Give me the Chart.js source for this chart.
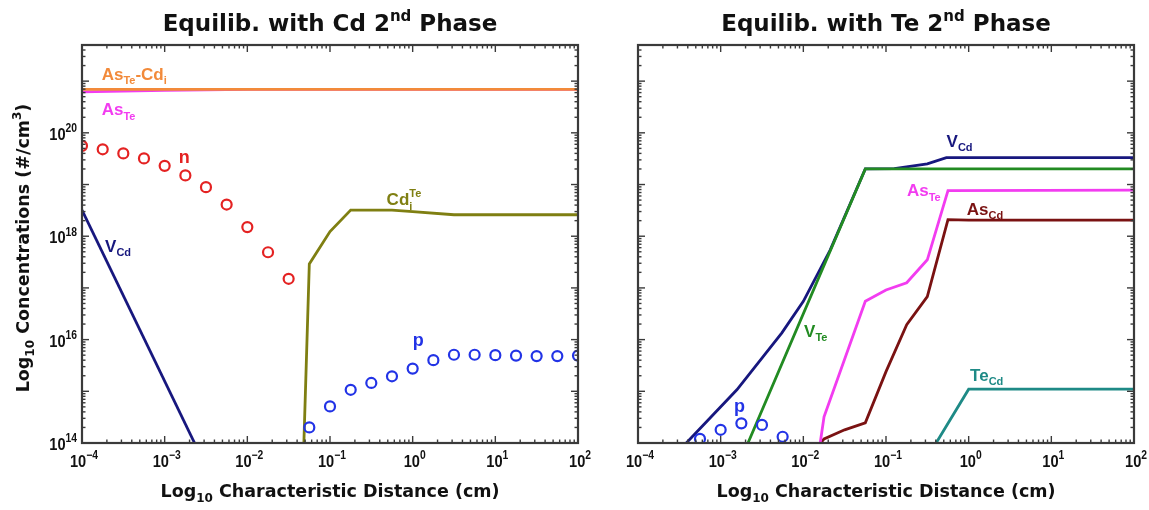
<!DOCTYPE html>
<html>
<head>
<meta charset="utf-8">
<script src="https://cdn.jsdelivr.net/npm/chart.js@4.4.1/dist/chart.umd.min.js"></script>
<style>
  html, body { margin: 0; padding: 0; background: #fff; }
  #wrap { position: relative; width: 1149px; height: 510px; overflow: hidden; background: #fff; }
  canvas { position: absolute; top: 0; }
</style>
</head>
<body>
<div id="wrap">
  <canvas id="cdPanel" width="600" height="510" style="left:0px"></canvas>
  <canvas id="tePanel" width="549" height="510" style="left:600px"></canvas>
</div>
<script>
// ---------- Equilib. with Cd 2nd phase ----------
const cdAsTeCdiX = [1e-4, 100];
const cdAsTeCdiY = [6.9e20, 6.9e20];

const cdAsTeX = [1e-4, 1e-3, 1e-2, 100];
const cdAsTeY = [6.2e20, 6.6e20, 6.9e20, 6.9e20];

const cdVCdX = [1e-4, 2.3e-3];
const cdVCdY = [3.2e18, 1e14];

const cdCdiX = [0.0483, 0.0562, 0.1, 0.178, 0.562, 1, 3.16, 100];
const cdCdiY = [1e14, 2.9e17, 1.23e18, 3.2e18, 3.2e18, 3.0e18, 2.6e18, 2.6e18];

const cdNX = [1e-4, 1.78e-4, 3.16e-4, 5.62e-4, 1e-3, 1.78e-3, 3.16e-3, 5.62e-3, 1e-2, 1.78e-2, 3.16e-2];
const cdNY = [5.6e19, 4.8e19, 4.0e19, 3.2e19, 2.3e19, 1.5e19, 8.9e18, 4.1e18, 1.5e18, 4.9e17, 1.5e17];

const cdPX = [5.62e-2, 0.1, 0.178, 0.316, 0.562, 1, 1.78, 3.16, 5.62, 10, 17.8, 31.6, 56.2, 100];
const cdPY = [2.0e14, 5.1e14, 1.07e15, 1.45e15, 1.95e15, 2.75e15, 4.0e15, 5.1e15, 5.1e15, 5.0e15, 4.9e15, 4.8e15, 4.8e15, 4.9e15];

// ---------- Equilib. with Te 2nd phase ----------
const teVCdX = [3.84e-4, 1.57e-3, 5.5e-3, 1e-2, 2.11e-2, 0.0562, 0.126, 0.316, 0.537, 100];
const teVCdY = [1e14, 1.07e15, 1.35e16, 5.5e16, 5.4e17, 2.0e19, 2.03e19, 2.5e19, 3.3e19, 3.3e19];

const teVTeX = [2.14e-3, 0.0562, 100];
const teVTeY = [1e14, 2.0e19, 2.0e19];

const teAsTeX = [0.016, 0.0178, 0.0562, 0.1, 0.178, 0.316, 0.562, 100];
const teAsTeY = [1e14, 3.2e14, 5.5e16, 9.1e16, 1.26e17, 3.5e17, 7.6e18, 7.8e18];

const teAsCdX = [0.0162, 0.0178, 0.0316, 0.0562, 0.1, 0.178, 0.316, 0.562, 1, 100];
const teAsCdY = [1e14, 1.2e14, 1.8e14, 2.45e14, 2.4e15, 1.95e16, 6.8e16, 2.1e18, 2.05e18, 2.05e18];

const teTeCdX = [0.404, 1, 100];
const teTeCdY = [1e14, 1.1e15, 1.1e15];

const tePX = [5.62e-4, 1e-3, 1.78e-3, 3.16e-3, 5.62e-3];
const tePY = [1.2e14, 1.8e14, 2.4e14, 2.24e14, 1.32e14];

// axis ticks (powers of ten)
const xTickPowers = [-4, -3, -2, -1, 0, 1, 2];
const yTickPowers = [14, 15, 16, 17, 18, 19, 20, 21];
const yLabelPowers = [14, 16, 18, 20];

const C = {
  orange: '#F28A3A', magenta: '#F23CF0', red: '#E42222', navy: '#17177E',
  olive: '#7F7F12', blue: '#2233E6', green: '#228B22', maroon: '#7A1212', teal: '#1E8A86',
  axis: '#3a3a3a', text: '#111111'
};

const SANS = '"Liberation Sans", Arial, sans-serif';
const WIDE = '"DejaVu Sans", sans-serif';

function pts(xs, ys) {
  return xs.map((x, i) => ({ x: x, y: ys[i] }));
}

function lineSet(label, xs, ys, color, order) {
  return { label: label, data: pts(xs, ys), showLine: true, borderColor: color,
    borderWidth: 2.8, pointRadius: 0, fill: false, tension: 0, order: order };
}

function dotSet(label, xs, ys, color, order) {
  return { label: label, data: pts(xs, ys), showLine: false, borderColor: color,
    backgroundColor: 'rgba(0,0,0,0)', pointStyle: 'circle', pointRadius: 5,
    pointBorderWidth: 2.2, order: order, clip: 0 };
}

// "As_{Te}^{x}" -> parts
function parse(str) {
  const parts = [];
  const re = /([_^])\{([^}]*)\}/g;
  let last = 0, m;
  while ((m = re.exec(str)) !== null) {
    if (m.index > last) parts.push({ t: str.slice(last, m.index) });
    parts.push({ t: m[2], s: m[1] === '_' ? 'sub' : 'sup' });
    last = re.lastIndex;
  }
  if (last < str.length) parts.push({ t: str.slice(last) });
  return parts;
}

function drawRich(ctx, str, x, y, o) {
  const parts = parse(str);
  const size = o.size, small = Math.round(size * (o.smallRatio || 0.66));
  const fam = o.family || SANS;
  const fontOf = p => 'bold ' + (p.s ? small : size) + 'px ' + fam;
  // widths, with a sup stacked above a preceding sub
  let w = 0, prevStart = 0, prev = null;
  const pos = [];
  parts.forEach(p => {
    ctx.font = fontOf(p);
    const pw = ctx.measureText(p.t).width;
    let start = w;
    if (p.s === 'sup' && prev && prev.s === 'sub') start = prevStart;
    pos.push(start);
    w = Math.max(w, start + pw);
    prevStart = start; prev = p;
  });
  ctx.save();
  ctx.translate(x, y);
  if (o.rotate) ctx.rotate(o.rotate);
  ctx.scale(o.sx || 1, 1);
  const off = o.align === 'center' ? -w / 2 : o.align === 'right' ? -w : 0;
  ctx.fillStyle = o.color || C.text;
  ctx.textAlign = 'left';
  ctx.textBaseline = 'alphabetic';
  parts.forEach((p, i) => {
    ctx.font = fontOf(p);
    const dy = p.s === 'sup' ? -size * 0.45 : p.s === 'sub' ? size * 0.26 : 0;
    ctx.fillText(p.t, off + pos[i], dy);
  });
  ctx.restore();
}

const decor = {
  id: 'decor',
  afterDraw(chart, args, o) {
    const ctx = chart.ctx, a = chart.chartArea;
    const xs = chart.scales.x, ys = chart.scales.y;
    ctx.save();
    ctx.strokeStyle = C.axis;
    ctx.lineWidth = 1.4;
    const seg = (x1, y1, x2, y2) => { ctx.beginPath(); ctx.moveTo(x1, y1); ctx.lineTo(x2, y2); ctx.stroke(); };

    // x ticks top and bottom, inward
    xTickPowers.forEach(d => {
      for (let m = 1; m <= 9; m++) {
        const v = m * Math.pow(10, d);
        if (v > xs.max * 1.0001) break;
        const px = xs.getPixelForValue(v);
        const len = m === 1 ? 7 : 3.5;
        seg(px, a.bottom, px, a.bottom - len);
        seg(px, a.top, px, a.top + len);
      }
    });
    // y ticks left and right, inward
    yTickPowers.forEach(d => {
      for (let m = 1; m <= 9; m++) {
        const v = m * Math.pow(10, d);
        if (v > ys.max * 1.0001) break;
        const py = ys.getPixelForValue(v);
        const len = m === 1 ? 7 : 3.5;
        seg(a.left, py, a.left + len, py);
        seg(a.right, py, a.right - len, py);
      }
    });
    // frame
    ctx.lineWidth = 2.2;
    ctx.strokeRect(a.left, a.top, a.right - a.left, a.bottom - a.top);
    ctx.restore();

    // x tick labels
    xTickPowers.forEach(d => {
      const px = xs.getPixelForValue(Math.pow(10, d));
      const e = d < 0 ? '\u2212' + (-d) : String(d);
      drawRich(ctx, '10^{' + e + '}', px + 2, a.bottom + 24,
        { size: 17, align: 'center', sx: 0.86, smallRatio: 0.72 });
    });
    // y tick labels
    if (o.yLabels) {
      yLabelPowers.forEach(d => {
        const py = ys.getPixelForValue(Math.pow(10, d));
        drawRich(ctx, '10^{' + d + '}', a.left - 5, py + 7,
          { size: 17, align: 'right', sx: 0.86, smallRatio: 0.72 });
      });
    }
    const cx = (a.left + a.right) / 2;
    // panel title
    drawRich(ctx, o.title, cx, 31, { size: 23, align: 'center', family: WIDE });
    // x axis title
    drawRich(ctx, 'Log_{10} Characteristic Distance (cm)', cx, 497, { size: 17.5, align: 'center', family: WIDE });
    // y axis title
    if (o.yTitle) {
      drawRich(ctx, 'Log_{10} Concentrations (#/cm^{3})', 29, (a.top + a.bottom) / 2 + 4,
        { size: 17.5, align: 'center', family: WIDE, rotate: -Math.PI / 2 });
    }
    // series labels
    (o.labels || []).forEach(l => {
      drawRich(ctx, l.text, xs.getPixelForValue(l.x), ys.getPixelForValue(l.y),
        { size: l.size || 17, color: l.color, align: 'left' });
    });
  }
};

function makePanel(id, datasets, pad, extra) {
  return new Chart(document.getElementById(id), {
    type: 'scatter',
    data: { datasets: datasets },
    options: {
      responsive: false,
      maintainAspectRatio: false,
      animation: false,
      layout: { padding: pad },
      scales: {
        x: { type: 'logarithmic', min: 1e-4, max: 100, display: false },
        y: { type: 'logarithmic', min: 1e14, max: 5e21, display: false }
      },
      plugins: { legend: { display: false }, tooltip: { enabled: false }, decor: extra }
    },
    plugins: [decor]
  });
}

makePanel('cdPanel', [
  lineSet('AsTe-Cdi', cdAsTeCdiX, cdAsTeCdiY, C.orange, 1),
  lineSet('AsTe', cdAsTeX, cdAsTeY, C.magenta, 2),
  lineSet('VCd', cdVCdX, cdVCdY, C.navy, 3),
  lineSet('CdiTe', cdCdiX, cdCdiY, C.olive, 4),
  dotSet('n', cdNX, cdNY, C.red, 0),
  dotSet('p', cdPX, cdPY, C.blue, 0)
], { left: 82, right: 22, top: 45, bottom: 67 }, {
  title: 'Equilib. with Cd 2^{nd} Phase',
  yLabels: true, yTitle: true,
  labels: [
    { text: 'As_{Te}-Cd_{i}', color: C.orange, x: 1.73e-4, y: 1.05e21 },
    { text: 'As_{Te}', color: C.magenta, x: 1.73e-4, y: 2.2e20 },
    { text: 'n', color: C.red, x: 1.48e-3, y: 2.6e19, size: 18 },
    { text: 'V_{Cd}', color: C.navy, x: 1.9e-4, y: 5e17 },
    { text: 'Cd_{i}^{Te}', color: C.olive, x: 0.484, y: 4e18 },
    { text: 'p', color: C.blue, x: 1.0, y: 7.4e15, size: 18 }
  ]
});

makePanel('tePanel', [
  lineSet('VTe', teVTeX, teVTeY, C.green, 1),
  lineSet('VCd', teVCdX, teVCdY, C.navy, 2),
  lineSet('AsTe', teAsTeX, teAsTeY, C.magenta, 3),
  lineSet('AsCd', teAsCdX, teAsCdY, C.maroon, 4),
  lineSet('TeCd', teTeCdX, teTeCdY, C.teal, 5),
  dotSet('p', tePX, tePY, C.blue, 0)
], { left: 38, right: 15, top: 45, bottom: 67 }, {
  title: 'Equilib. with Te 2^{nd} Phase',
  yLabels: false, yTitle: false,
  labels: [
    { text: 'V_{Cd}', color: C.navy, x: 0.54, y: 5.4e19 },
    { text: 'As_{Te}', color: C.magenta, x: 0.179, y: 5.9e18 },
    { text: 'As_{Cd}', color: C.maroon, x: 0.95, y: 2.6e18 },
    { text: 'V_{Te}', color: C.green, x: 0.0102, y: 1.12e16 },
    { text: 'Te_{Cd}', color: C.teal, x: 1.04, y: 1.6e15 },
    { text: 'p', color: C.blue, x: 1.45e-3, y: 4e14, size: 18 }
  ]
});
</script>
</body>
</html>
